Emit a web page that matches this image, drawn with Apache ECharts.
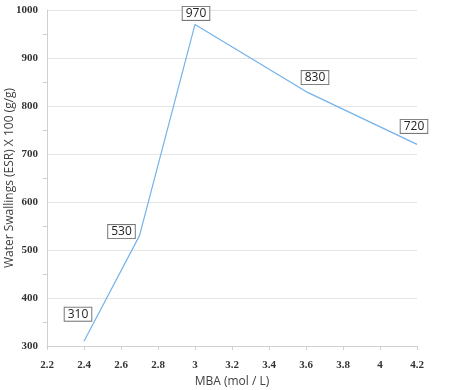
<!DOCTYPE html>
<html><head><meta charset="utf-8">
<script src="https://cdn.jsdelivr.net/npm/echarts@6/dist/echarts.min.js"></script>
<style>html,body{margin:0;padding:0;background:#fff}#c{width:459px;height:390px}</style>
</head><body><div id="c"></div>
<script>
const mba = [2.4, 2.7, 3.0, 3.6, 4.2];
const esr = [310, 530, 970, 830, 720];
const xTicks = [2.2, 2.4, 2.6, 2.8, 3, 3.2, 3.4, 3.6, 3.8, 4, 4.2];
const yTicks = [300, 400, 500, 600, 700, 800, 900, 1000];
const labelOffsets = [[-6,-27],[-18,-4],[1,-11],[9,-14],[-3,-18]];

const chart = echarts.init(document.getElementById('c'));
chart.setOption({
  animation: false,
  grid: {left: 47, right: 42, top: 10, bottom: 44, containLabel: false, outerBoundsMode: 'none'},
  xAxis: {
    type: 'value', min: 2.2, max: 4.2, interval: 0.2,
    name: 'MBA (mol / L)', nameLocation: 'middle', nameGap: 30, nameMoveOverlap: false,
    nameTextStyle: {fontFamily: 'Open Sans', fontSize: 12, color: '#404040'},
    axisLine: {show: true, lineStyle: {color: '#d0d0d0', width: 1}},
    axisTick: {show: true, length: 4, lineStyle: {color: '#d0d0d0'}},
    axisLabel: {fontFamily: 'Liberation Serif', fontWeight: 'bold', fontSize: 11, color: '#333', margin: 14,
      formatter: v => { const r = Math.round(v*10)/10; return xTicks.includes(r) ? String(r) : ''; }},
    splitLine: {show: false}
  },
  yAxis: {
    type: 'value', min: 300, max: 1000, interval: 100,
    name: 'Water Swallings (ESR) X 100 (g/g)', nameLocation: 'middle', nameGap: 31, nameMoveOverlap: false,
    nameTextStyle: {fontFamily: 'Open Sans', fontSize: 12, color: '#404040'},
    axisLine: {show: true, lineStyle: {color: '#d0d0d0', width: 1}},
    axisTick: {show: false},
    minorTick: {show: true, splitNumber: 2, length: 4, lineStyle: {color: '#d0d0d0'}},
    axisLabel: {fontFamily: 'Liberation Serif', fontWeight: 'bold', fontSize: 11, color: '#333', margin: 9,
      formatter: v => yTicks.includes(v) ? String(v) : ''},
    splitLine: {show: true, lineStyle: {color: '#e4e4e4', width: 1}}
  },
  series: [{
    type: 'line',
    data: mba.map((x, i) => ({
      value: [x, esr[i]],
      label: {offset: labelOffsets[i]}
    })),
    showSymbol: true, symbol: 'circle', symbolSize: 1,
    itemStyle: {color: 'rgba(0,0,0,0)'},
    lineStyle: {color: '#74b2ea', width: 1.2},
    label: {
      show: true, position: 'inside',
      formatter: p => String(p.value[1]),
      fontFamily: 'Open Sans', fontSize: 12, color: '#222',
      backgroundColor: '#fff', borderColor: '#777', borderWidth: 1,
      padding: [1, 3, 0, 3]
    }
  }]
});
</script></body></html>
